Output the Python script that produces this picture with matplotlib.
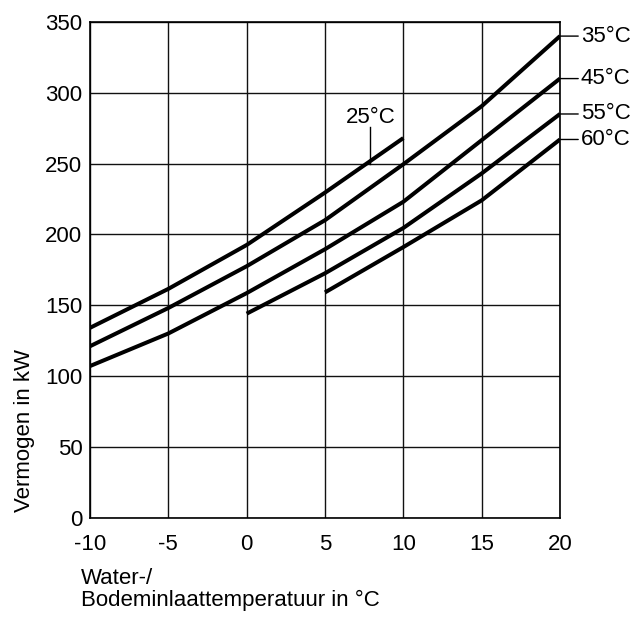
import numpy as np
import matplotlib
matplotlib.use('Agg')
import matplotlib.pyplot as plt

plt.rcParams['font.family'] = ['Liberation Sans', 'DejaVu Sans']

# capacity curves (kW) against brine/water inlet temperature (degC)
t_25 = [-10, -5, 0, 5, 10]
p_25 = [134, 161.5, 192.5, 229.5, 268]

t_35 = [-10, -5, 0, 5, 10, 15, 20]
p_35 = [121, 148, 177.5, 210, 249.5, 290.5, 340]

t_45 = [-10, -5, 0, 5, 10, 15, 20]
p_45 = [107, 130, 158.5, 189.5, 223, 266.5, 310]

t_55 = [0, 5, 10, 15, 20]
p_55 = [144, 172.5, 204.5, 243, 285]

t_60 = [5, 10, 15, 20]
p_60 = [159, 191, 224, 267]

right_labels = ['35°C', '45°C', '55°C', '60°C']
right_ends = [p_35[-1], p_45[-1], p_55[-1], p_60[-1]]

xticks = [-10, -5, 0, 5, 10, 15, 20]
yticks = [0, 50, 100, 150, 200, 250, 300, 350]

fs = 16

fig = plt.figure(figsize=(6.37, 6.18), dpi=100)
ax = fig.add_axes([0.1413, 0.1625, 0.7378, 0.802])

for t, p in [(t_25, p_25), (t_35, p_35), (t_45, p_45), (t_55, p_55), (t_60, p_60)]:
    ax.plot(t, p, color='black', linewidth=2.9, solid_capstyle='butt', zorder=3)

ax.set_xlim(-10, 20)
ax.set_ylim(0, 350)
ax.set_xticks(xticks)
ax.set_yticks(yticks)
ax.set_xticklabels([str(v) for v in xticks])
ax.set_yticklabels([str(v) for v in yticks])
ax.tick_params(axis='both', length=0, labelsize=fs)
ax.tick_params(axis='x', pad=11.5)
ax.tick_params(axis='y', pad=5.5)
ax.grid(color='#111111', linewidth=1.0)
for s in ax.spines.values():
    s.set_color('black')
    s.set_linewidth(1.2)

# labels on the right with short leaders
for lab, v in zip(right_labels, right_ends):
    ax.annotate(lab, xy=(20, v), xytext=(21, 0), textcoords='offset pixels',
                ha='left', va='center', fontsize=fs, annotation_clip=False,
                arrowprops=dict(arrowstyle='-', color='black', lw=1,
                                shrinkA=0, shrinkB=0))

# 25 degC label with vertical leader
ax.plot([7.9, 7.9], [250, 276], color='black', linewidth=1, zorder=2)
ax.text(7.9, 275, '25°C', ha='center', va='bottom', fontsize=fs)

fig.text(25 / 637, 1 - 430 / 618, 'Vermogen in kW', rotation=90,
         ha='center', va='center', fontsize=fs)
fig.text(81 / 637, 1 - 568 / 618, 'Water-/\nBodeminlaattemperatuur in °C',
         ha='left', va='top', fontsize=fs, linespacing=1.05)

fig.savefig('out.png', dpi=100)
